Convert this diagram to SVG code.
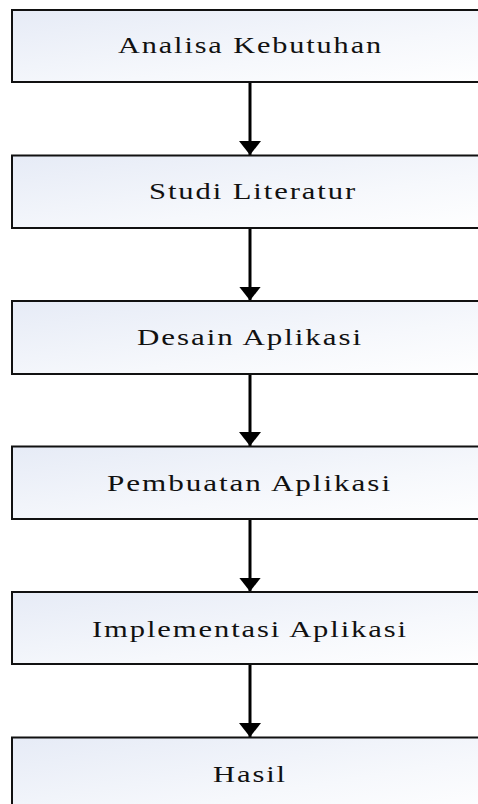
<svg xmlns="http://www.w3.org/2000/svg" width="478" height="804" viewBox="0 0 478 804">
  <defs>
    <linearGradient id="boxFill" x1="0" y1="0" x2="1" y2="1">
      <stop offset="0" stop-color="#e6ebf6"/>
      <stop offset="0.6" stop-color="#f6f8fc"/>
      <stop offset="1" stop-color="#ffffff"/>
    </linearGradient>
    <marker id="arrow" markerUnits="userSpaceOnUse" markerWidth="16" markerHeight="22" refX="14" refY="11" orient="auto">
      <path d="M0,0 L14,11 L0,22 Z" fill="#000"/>
    </marker>
  </defs>
  <style>
    .box { fill: url(#boxFill); stroke: #111; stroke-width: 2; }
    .label { font-family: "Liberation Serif", "Times New Roman", serif; font-size: 24px; letter-spacing: 1.5px; fill: #111; }
    .conn { stroke: #000; stroke-width: 3; fill: none; }
  </style>
  <rect width="478" height="804" fill="#ffffff"/>

  <g id="connectors">
    <line class="conn" x1="250" y1="82" x2="250" y2="155" marker-end="url(#arrow)"/>
    <line class="conn" x1="250" y1="228" x2="250" y2="300.5" marker-end="url(#arrow)"/>
    <line class="conn" x1="250" y1="374" x2="250" y2="446" marker-end="url(#arrow)"/>
    <line class="conn" x1="250" y1="519" x2="250" y2="591.5" marker-end="url(#arrow)"/>
    <line class="conn" x1="250" y1="664" x2="250" y2="737" marker-end="url(#arrow)"/>
  </g>

  <g id="analisa-kebutuhan">
    <rect class="box" x="12" y="10" width="500" height="72"/>
    <text class="label" x="118" y="53" textLength="265" lengthAdjust="spacingAndGlyphs">Analisa Kebutuhan</text>
  </g>
  <g id="studi-literatur">
    <rect class="box" x="12" y="155.5" width="500" height="72.5"/>
    <text class="label" x="149" y="199" textLength="208" lengthAdjust="spacingAndGlyphs">Studi Literatur</text>
  </g>
  <g id="desain-aplikasi">
    <rect class="box" x="12" y="301" width="500" height="73"/>
    <text class="label" x="137" y="345" textLength="226" lengthAdjust="spacingAndGlyphs">Desain Aplikasi</text>
  </g>
  <g id="pembuatan-aplikasi">
    <rect class="box" x="12" y="446.5" width="500" height="72.5"/>
    <text class="label" x="107" y="491" textLength="285" lengthAdjust="spacingAndGlyphs">Pembuatan Aplikasi</text>
  </g>
  <g id="implementasi-aplikasi">
    <rect class="box" x="12" y="592" width="500" height="72"/>
    <text class="label" x="92" y="637" textLength="316" lengthAdjust="spacingAndGlyphs">Implementasi Aplikasi</text>
  </g>
  <g id="hasil">
    <rect class="box" x="12" y="737.5" width="500" height="80"/>
    <text class="label" x="213" y="782" textLength="74" lengthAdjust="spacingAndGlyphs">Hasil</text>
  </g>
</svg>
